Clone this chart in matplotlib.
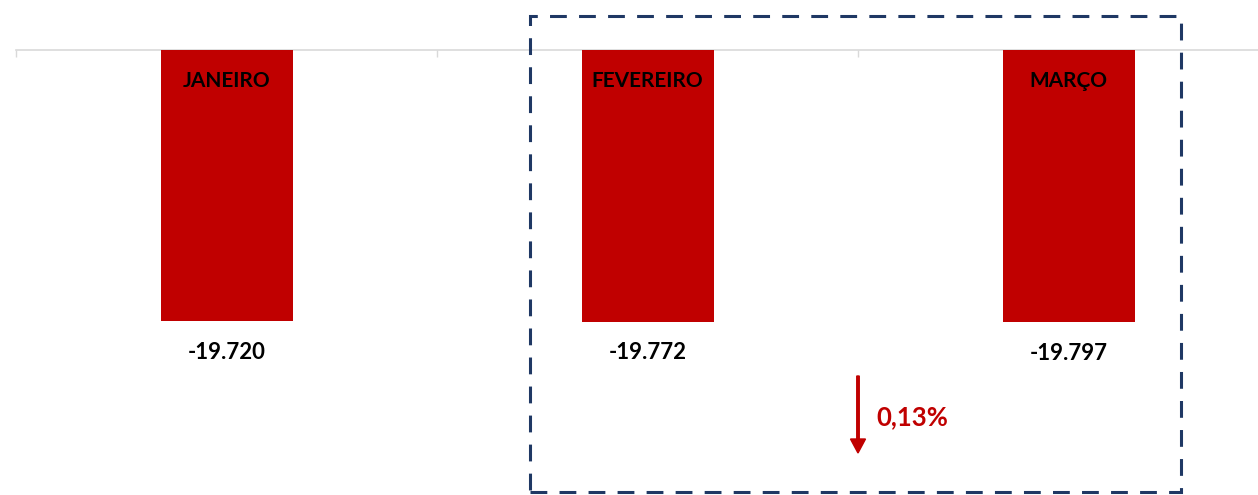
import matplotlib
matplotlib.use("Agg")
import matplotlib.pyplot as plt
from matplotlib.patches import Rectangle, FancyArrow

meses = ['JANEIRO', 'FEVEREIRO', 'MARÇO']
valores = [-19720, -19772, -19797]
variacao = '0,13%'

vermelho = '#c00000'
azul = '#1f3864'
cinza = '#d9d9d9'

plt.rcParams['font.family'] = ['Lato', 'DejaVu Sans']

W, H = 1258, 495
fig = plt.figure(figsize=(W / 100, H / 100), dpi=100)
# eixo ocupa a figura inteira; zero fica a 50 px do topo
ax = fig.add_axes([16 / W, 0, 1 - 16 / W, 1])
escala = 19720 / 271.0  # unidades por pixel
cat = 421.0  # pixels por categoria

x = range(len(meses))
ax.bar(x, valores, width=132 / cat, color=vermelho, zorder=2)

for i, (m, v) in enumerate(zip(meses, valores)):
    ax.annotate(m, (i, 0), xytext=(0, -31), textcoords='offset pixels',
                ha='center', va='center', fontsize=15, fontweight='bold', color='black', zorder=3)
    ax.annotate(f'{v:,}'.replace(',', '.'), (i, v), xytext=(0, -31), textcoords='offset pixels',
                ha='center', va='center', fontsize=16, fontweight='bold', color='black')

# eixo x no zero, com marcas entre categorias
for s in ['top', 'right', 'left']:
    ax.spines[s].set_visible(False)
ax.spines['bottom'].set_position(('data', 0))
ax.spines['bottom'].set_color(cinza)
ax.spines['bottom'].set_linewidth(1.2)
ax.spines['bottom'].set_zorder(1)
ax.set_xticks([-0.5, 0.5, 1.5])
ax.set_xticklabels([])
ax.tick_params(axis='x', direction='out', length=5, width=1, color=cinza)
ax.set_yticks([])

ax.set_ylim(-445 * escala, 50 * escala)
ax.set_xlim(-0.5, -0.5 + (W - 16) / cat)

# seta de variacao entre fevereiro e março
ax.add_patch(FancyArrow(1.5, -326 * escala, 0, -(77 - 14) * escala, width=2.5 / cat,
                        head_width=15 / cat, head_length=14 * escala, length_includes_head=False,
                        color=vermelho, zorder=3))
ax.text(1.5 + 18 / cat, -367 * escala, variacao, ha='left', va='center',
        fontsize=18.5, fontweight='bold', color=vermelho)

# caixa tracejada
fig.patches.append(Rectangle((530 / W, 1 - 492 / H), (1181 - 530) / W, (492 - 16) / H,
                             transform=fig.transFigure, fill=False, edgecolor=azul,
                             linewidth=2.2, linestyle=(0, (5.5, 4))))

fig.savefig('out.png', dpi=100)
